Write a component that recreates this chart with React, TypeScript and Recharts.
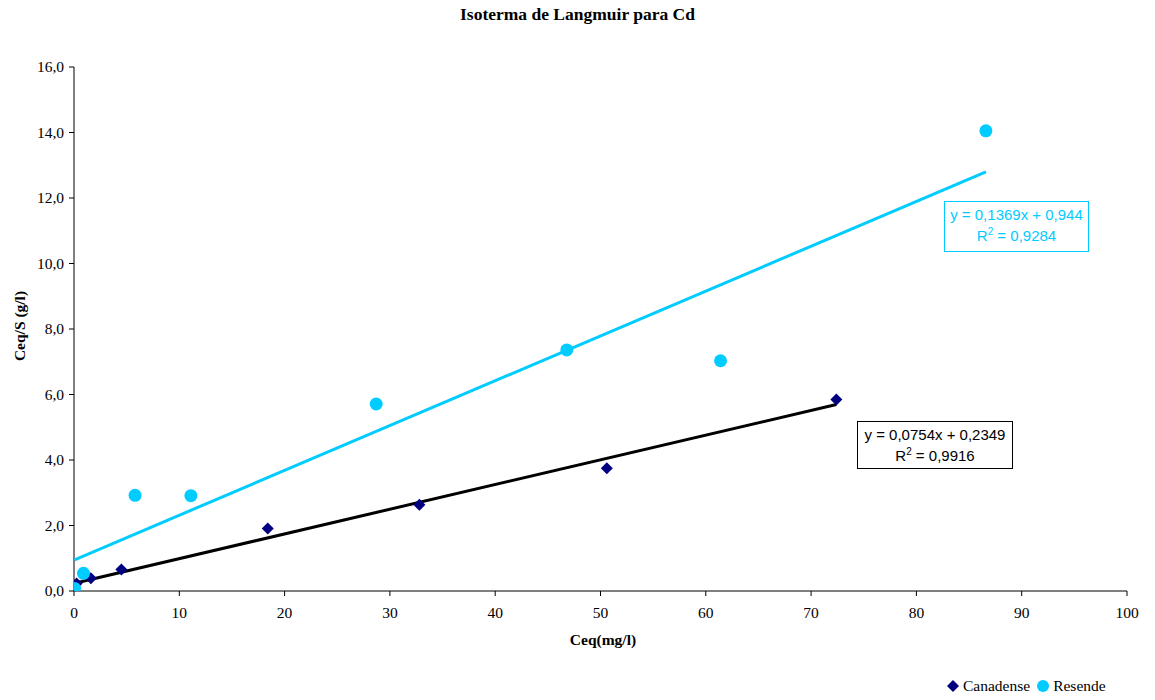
import { ScatterChart, Scatter, XAxis, YAxis } from "recharts";

// Canadense (diamonds)
const canadenseX = [0.25, 1.6, 4.5, 18.4, 32.8, 50.6, 72.4];
const canadenseY = [0.23, 0.39, 0.66, 1.91, 2.63, 3.75, 5.85];

// Resende (circles)
const resendeX = [0.05, 0.9, 5.8, 11.1, 28.7, 46.8, 61.4, 86.6];
const resendeY = [0.08, 0.54, 2.92, 2.91, 5.71, 7.36, 7.03, 14.05];

// linear fits as printed on the chart
const canadenseSlope = 0.0754;
const canadenseIntercept = 0.2349;
const resendeSlope = 0.1369;
const resendeIntercept = 0.944;

const xTicks = [0, 10, 20, 30, 40, 50, 60, 70, 80, 90, 100];
const yTicks = [0, 2, 4, 6, 8, 10, 12, 14, 16];

const NAVY = "#000080";
const CYAN = "#00CCFF";
const SERIF = "Liberation Serif";
const SANS = "Liberation Sans";

const toPoints = (xs: number[], ys: number[]) => xs.map((x, i) => ({ x, y: ys[i] }));

const fitLine = (xs: number[], slope: number, intercept: number) => {
    const lo = Math.min(...xs);
    const hi = Math.max(...xs);
    return [
        { x: lo, y: slope * lo + intercept },
        { x: hi, y: slope * hi + intercept },
    ];
};

const canadense = toPoints(canadenseX, canadenseY);
const resende = toPoints(resendeX, resendeY);
const canadenseTrend = fitLine(canadenseX, canadenseSlope, canadenseIntercept);
const resendeTrend = fitLine(resendeX, resendeSlope, resendeIntercept);

const Diamond = ({ cx, cy }: { cx?: number; cy?: number }) => {
    if (cx == null || cy == null) return <g />;
    const r = 6;
    return (
        <polygon
            points={`${cx},${cy - r} ${cx + r},${cy} ${cx},${cy + r} ${cx - r},${cy}`}
            fill={NAVY}
        />
    );
};

const Dot = ({ cx, cy }: { cx?: number; cy?: number }) => {
    if (cx == null || cy == null) return <g />;
    return <circle cx={cx} cy={cy} r={6.5} fill={CYAN} />;
};

const NoShape = () => <g />;

const fmt = (v: number) => v.toFixed(1).replace('.', ',');

const XTick = ({ x, y, payload }: { x: number; y: number; payload: { value: number } }) => (
    <text x={x} y={y + 20} textAnchor="middle" fontSize={15.5} fill="#000" style={{ fontFamily: SERIF }}>
        {payload.value}
    </text>
);

const YTick = ({ x, y, payload }: { x: number; y: number; payload: { value: number } }) => (
    <text x={x - 3} y={y + 5} textAnchor="end" fontSize={15.5} fill="#000" style={{ fontFamily: SERIF }}>
        {fmt(payload.value)}
    </text>
);

const EquationBox = ({
    left, top, width, height, color, eq, r2,
}: {
    left: number, top: number, width: number, height: number, color: string, eq: string, r2: string,
}) => (
    <div
        style={{
            position: 'absolute',
            left,
            top,
            width,
            height,
            boxSizing: 'border-box',
            border: `1px solid ${color}`,
            background: '#fff',
            color,
            fontFamily: SANS,
            fontSize: 15,
            lineHeight: '21px',
            textAlign: 'center',
            paddingTop: 2,
        }}
    >
        <div>{eq}</div>
        <div>R<sup style={{ fontSize: 10, verticalAlign: 6, lineHeight: 0 }}>2</sup> = {r2}</div>
    </div>
);

export default function App() {
    return (
        <div
            style={{
                position: 'absolute',
                left: 0,
                top: 0,
                width: 1155,
                height: 700,
                background: '#fff',
                fontFamily: SERIF,
            }}
        >
            <div
                style={{
                    position: 'absolute',
                    left: 0,
                    width: 1155,
                    top: 4,
                    textAlign: 'center',
                    fontWeight: 'bold',
                    fontSize: 17.5,
                    color: '#000',
                }}
            >
                Isoterma de Langmuir para Cd
            </div>

            <ScatterChart
                width={1155}
                height={700}
                margin={{ top: 67, right: 28, bottom: 79, left: 14 }}
                style={{ fontFamily: SERIF }}
            >
                <XAxis
                    type="number"
                    dataKey="x"
                    domain={[0, 100]}
                    ticks={xTicks}
                    interval={0}
                    height={30}
                    stroke="#000"
                    tickSize={5}
                    tick={XTick}
                    allowDataOverflow
                />
                <YAxis
                    type="number"
                    dataKey="y"
                    domain={[0, 16]}
                    ticks={yTicks}
                    interval={0}
                    width={60}
                    stroke="#000"
                    tickSize={5}
                    tick={YTick}
                    allowDataOverflow
                />

                <Scatter
                    data={resendeTrend}
                    line={{ stroke: CYAN, strokeWidth: 3 }}
                    shape={NoShape}
                    isAnimationActive={false}
                />
                <Scatter
                    data={canadenseTrend}
                    line={{ stroke: '#000', strokeWidth: 3 }}
                    shape={NoShape}
                    isAnimationActive={false}
                />

                <Scatter
                    name="Canadense"
                    data={canadense}
                    shape={Diamond}
                    isAnimationActive={false}
                />
                <Scatter
                    name="Resende"
                    data={resende}
                    shape={Dot}
                    isAnimationActive={false}
                />
            </ScatterChart>

            {/* axis titles */}
            <div
                style={{
                    position: 'absolute',
                    left: 503,
                    width: 200,
                    top: 631,
                    textAlign: 'center',
                    fontWeight: 'bold',
                    fontSize: 15.5,
                }}
            >
                Ceq(mg/l)
            </div>
            <div
                style={{
                    position: 'absolute',
                    left: 20,
                    top: 326,
                    transform: 'translate(-50%, -50%) rotate(-90deg)',
                    whiteSpace: 'nowrap',
                    fontWeight: 'bold',
                    fontSize: 15.5,
                }}
            >
                Ceq/S (g/l)
            </div>

            <EquationBox
                left={944}
                top={201}
                width={145}
                height={51}
                color={CYAN}
                eq="y = 0,1369x + 0,944"
                r2="0,9284"
            />
            <EquationBox
                left={857}
                top={421}
                width={156}
                height={48}
                color="#000"
                eq="y = 0,0754x + 0,2349"
                r2="0,9916"
            />

            {/* legend */}
            <div
                style={{
                    position: 'absolute',
                    left: 946,
                    top: 677,
                    display: 'flex',
                    alignItems: 'center',
                    fontSize: 15.5,
                    color: '#000',
                }}
            >
                <svg width={14} height={14} style={{ marginRight: 3 }}>
                    <polygon points="7,1 13,7 7,13 1,7" fill={NAVY} />
                </svg>
                <span style={{ marginRight: 6 }}>Canadense</span>
                <svg width={14} height={14} style={{ marginRight: 3 }}>
                    <circle cx={7} cy={7} r={6} fill={CYAN} />
                </svg>
                <span>Resende</span>
            </div>
        </div>
    );
}
